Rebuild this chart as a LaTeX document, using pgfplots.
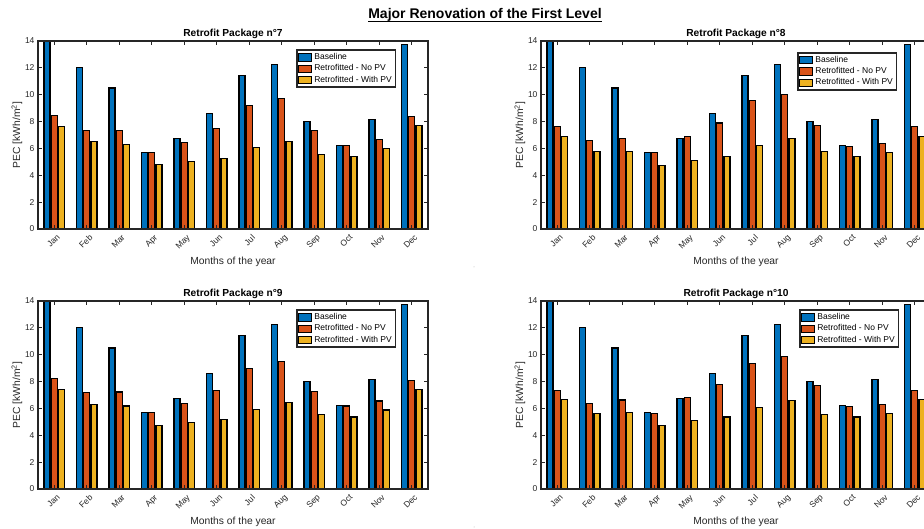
\documentclass[border=0pt]{standalone}
\usepackage{fontspec}
\setmainfont{Liberation Sans}
\usepackage{pgfplots}
\pgfplotsset{compat=1.18}
\usepackage{pgfplotstable}

\definecolor{mblue}{RGB}{0,114,189}
\definecolor{morange}{RGB}{217,83,25}
\definecolor{myellow}{RGB}{237,177,32}
\definecolor{axgray}{RGB}{38,38,38}

% Monthly primary energy consumption [kWh/m2]
% base = baseline, pXn = retrofitted without PV, pXw = retrofitted with PV
\pgfplotstableread{
m  base  p7n  p7w  p8n  p8w   p9n  p9w  p10n p10w
1  14.00 8.46 7.66 7.61 6.89  8.20 7.40 7.35 6.65
2  12.01 7.36 6.49 6.59 5.80  7.17 6.28 6.38 5.61
3  10.50 7.36 6.32 6.72 5.77  7.22 6.18 6.63 5.68
4  5.72  5.72 4.78 5.67 4.75  5.68 4.71 5.63 4.71
5  6.72  6.44 5.00 6.89 5.12  6.38 4.96 6.83 5.13
6  8.58  7.46 5.25 7.89 5.42  7.32 5.18 7.77 5.36
7  11.44 9.20 6.04 9.55 6.24  8.99 5.90 9.34 6.10
8  12.24 9.73 6.49 10.02 6.72 9.52 6.45 9.84 6.60
9  8.03  7.31 5.57 7.71 5.77  7.27 5.53 7.70 5.58
10 6.19  6.19 5.37 6.17 5.37  6.18 5.36 6.15 5.36
11 8.13  6.64 6.00 6.34 5.72  6.55 5.88 6.28 5.61
12 13.73 8.38 7.69 7.61 6.92  8.10 7.40 7.32 6.65
}\pec

\pgfplotsset{
  pkg/.style={
    ybar, scale only axis, width=390pt, height=188pt, anchor=south west,
    xmin=0.5, xmax=12.5, ymin=0, ymax=14,
    xtick={1,...,12},
    xticklabels={Jan,Feb,Mar,Apr,May,Jun,Jul,Aug,Sep,Oct,Nov,Dec},
    ytick={0,2,...,14},
    tick align=inside, xtick pos=both, ytick pos=both,
    major tick length=4pt,
    every tick/.style={axgray, line width=1pt},
    axis line style={axgray, line width=1.2pt},
    axis on top,
    bar width=0.185,
    /pgf/number format/assume math mode=true,
    tick label style={font=\fontsize{8.5}{10}\selectfont, text=axgray},
    xticklabel style={xshift=2pt, rotate=45, anchor=north east},
    label style={font=\fontsize{10.3}{12}\selectfont, text=axgray},
    every axis title/.style={font=\bfseries\fontsize{10.2}{12}\selectfont,
      at={(axis description cs:0.5,1)}, anchor=base, yshift=4.3pt},
    xlabel={Months of the year},
    ylabel={PEC [kWh/m\textsuperscript{2}]},
    xlabel style={at={(axis description cs:0.5,0)}, anchor=base, yshift=-35.7pt},
    ylabel style={at={(axis description cs:-0.054,0.5)}, anchor=center},
    legend style={at={(axis description cs:0.918,0.955)}, anchor=north east,
      draw=axgray, line width=1.4pt, font=\fontsize{8.5}{9.5}\selectfont,
      inner sep=1.5pt, row sep=-0.5pt},
    legend cell align=left,
    legend image code/.code={\draw[##1, line width=1pt] (0pt,-3.6pt) rectangle (13pt,3.6pt);},
  },
  bbase/.style={fill=mblue, draw=black, line width=1.1pt, bar shift=-0.222},
  bnopv/.style={fill=morange, draw=black, line width=1.1pt, bar shift=0},
  bwpv/.style={fill=myellow, draw=black, line width=1.1pt, bar shift=0.222},
}

\begin{document}
\begin{tikzpicture}

% main heading
\node[font=\bfseries\fontsize{14}{16}\selectfont, anchor=base, inner sep=0pt] (T) at (485pt,510pt)
  {Major Renovation of the First Level};
\draw[line width=0.9pt] ([yshift=-2.7pt]T.base west) -- ([yshift=-2.7pt]T.base east);

% package 7
\begin{axis}[pkg, at={(38pt,300pt)}, title={Retrofit Package n°7}]
\addplot[bbase] table[x=m, y=base] {\pec};
\addplot[bnopv] table[x=m, y=p7n] {\pec};
\addplot[bwpv]  table[x=m, y=p7w] {\pec};
\legend{Baseline, Retrofitted - No PV, Retrofitted - With PV}
\end{axis}

% package 8
\begin{axis}[pkg, at={(541pt,300pt)}, title={Retrofit Package n°8},
  legend style={at={(axis description cs:0.913,0.94)}}]
\addplot[bbase] table[x=m, y=base] {\pec};
\addplot[bnopv] table[x=m, y=p8n] {\pec};
\addplot[bwpv]  table[x=m, y=p8w] {\pec};
\legend{Baseline, Retrofitted - No PV, Retrofitted - With PV}
\end{axis}

% package 9
\begin{axis}[pkg, at={(38pt,40pt)}, title={Retrofit Package n°9}]
\addplot[bbase] table[x=m, y=base] {\pec};
\addplot[bnopv] table[x=m, y=p9n] {\pec};
\addplot[bwpv]  table[x=m, y=p9w] {\pec};
\legend{Baseline, Retrofitted - No PV, Retrofitted - With PV}
\end{axis}

% package 10
\begin{axis}[pkg, at={(541pt,40pt)}, title={Retrofit Package n°10}]
\addplot[bbase] table[x=m, y=base] {\pec};
\addplot[bnopv] table[x=m, y=p10n] {\pec};
\addplot[bwpv]  table[x=m, y=p10w] {\pec};
\legend{Baseline, Retrofitted - No PV, Retrofitted - With PV}
\end{axis}

\fill[gray!60] (474pt,262pt) circle (0.5pt);
\fill[gray!60] (474pt,2pt) circle (0.5pt);

\pgfresetboundingbox
\path[use as bounding box] (0pt,0pt) rectangle (924pt,529pt);
\end{tikzpicture}
\end{document}
